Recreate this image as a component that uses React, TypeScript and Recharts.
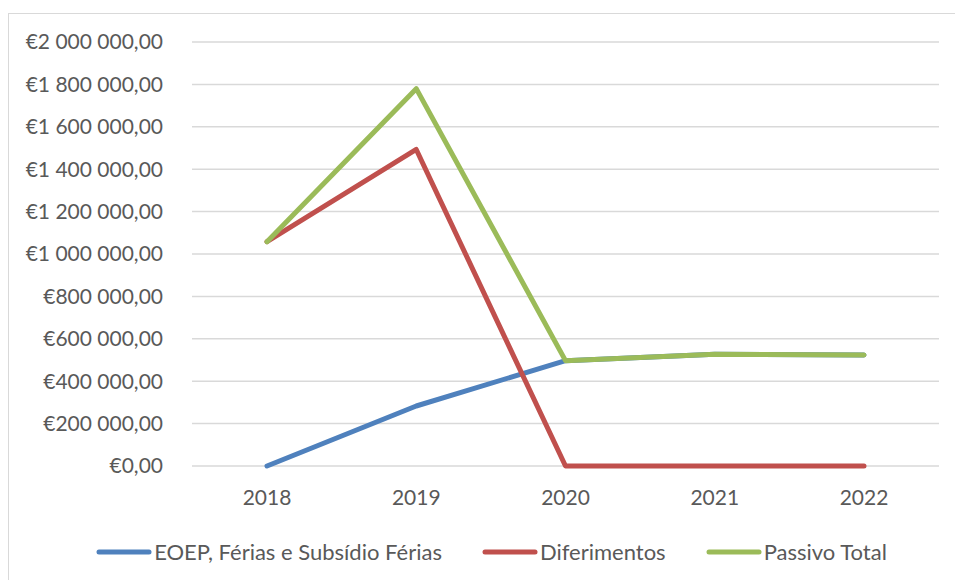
import React from 'react';
import { LineChart, Line, XAxis, YAxis, CartesianGrid, Legend } from 'recharts';

const years = ['2018', '2019', '2020', '2021', '2022'];
const eoep = [0, 283000, 497000, 527000, 524000];
const diferimentos = [1058000, 1493000, 0, 0, 0];
const passivoTotal = [1058000, 1780000, 497000, 527000, 524000];
const yTicks = [0, 200000, 400000, 600000, 800000, 1000000, 1200000, 1400000, 1600000, 1800000, 2000000];

const data = years.map((year, i) => ({
  year,
  eoep: eoep[i],
  diferimentos: diferimentos[i],
  passivoTotal: passivoTotal[i],
}));

const series = [
  { key: 'eoep', name: 'EOEP, Férias e Subsídio Férias', color: '#4f81bd' },
  { key: 'diferimentos', name: 'Diferimentos', color: '#c0504d' },
  { key: 'passivoTotal', name: 'Passivo Total', color: '#9bbb59' },
];

const FONT = 'Lato, "Open Sans", sans-serif';

const formatEuro = (v: number) => {
  const s = Math.round(v).toString().replace(/\B(?=(\d{3})+(?!\d))/g, ' ');
  return `€${s},00`;
};

const CustomLegend = () => (
  <div style={{ display: 'flex', justifyContent: 'center', alignItems: 'center', fontFamily: FONT, fontSize: 22, color: '#595959', paddingTop: 14, paddingLeft: 35 }}>
    {series.map((s, i) => (
      <div key={s.key} style={{ display: 'flex', alignItems: 'center', marginLeft: i === 0 ? 0 : 40 }}>
        <svg width={56} height={8} style={{ marginRight: 2 }}>
          <line x1={3} y1={4} x2={53} y2={4} stroke={s.color} strokeWidth={5} strokeLinecap="round" />
        </svg>
        <span>{s.name}</span>
      </div>
    ))}
  </div>
);

export default function App() {
  return (
    <div style={{ position: 'fixed', left: 0, top: 0, width: 955, height: 580, overflow: 'hidden', background: '#fff' }}>
      <div style={{ position: 'absolute', left: 8, top: 13, width: 965, height: 600, border: '1px solid #d9d9d9' }}>
        <LineChart width={965} height={566} data={data} margin={{ top: 28, right: 35, left: 0, bottom: 0 }}>
          <CartesianGrid stroke="#d9d9d9" strokeWidth={1.5} vertical={false} />
          <XAxis
            dataKey="year"
            height={58}
            padding={{ left: 75, right: 75 }}
            axisLine={false}
            tickLine={false}
            tickMargin={18}
            tick={{ fill: '#595959', fontSize: 21, fontFamily: FONT }}
          />
          <YAxis
            width={183}
            domain={[0, 2000000]}
            ticks={yTicks}
            tickFormatter={formatEuro}
            axisLine={false}
            tickLine={false}
            tickSize={6}
            tickMargin={23}
            tick={{ fill: '#595959', fontSize: 21, fontFamily: FONT }}
          />
          <Legend verticalAlign="bottom" height={56} content={<CustomLegend />} />
          {series.map((s) => (
            <Line
              key={s.key}
              type="linear"
              dataKey={s.key}
              name={s.name}
              stroke={s.color}
              strokeWidth={5}
              strokeLinecap="round"
              strokeLinejoin="round"
              dot={false}
              activeDot={false}
              isAnimationActive={false}
            />
          ))}
        </LineChart>
      </div>
    </div>
  );
}
